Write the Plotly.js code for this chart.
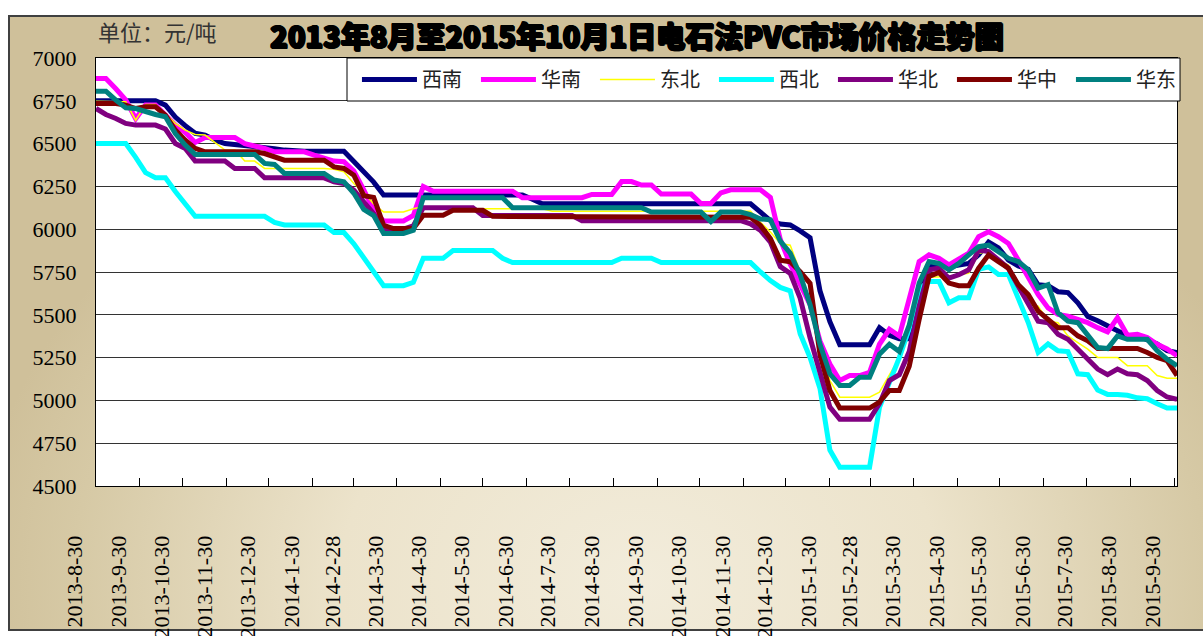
<!DOCTYPE html>
<html><head><meta charset="utf-8">
<script src="https://cdn.plot.ly/plotly-3.0.1.min.js"></script>
<style>
html,body{margin:0;padding:0;background:#fff;width:1203px;height:636px;overflow:hidden;}
#frame{position:absolute;left:8px;top:15px;width:1210px;height:612px;border:2px solid #404040;
 background: radial-gradient(ellipse 55% 85% at 52% 92%, #F2ECDB 0%, #ECE3CB 45%, #D6C9A5 85%, #CFC09A 100%);}
#chart{position:absolute;left:0;top:0;width:1203px;height:636px;}
</style></head><body>
<div id="frame"></div><div id="chart"></div>
<script>
const TITLE = '2013年8月至2015年10月1日电石法PVC市场价格走势图';
const UNIT = '单位：元/吨';
const SERIES_NAMES = ['西南','华南','东北','西北','华北','华中','华东'];

const DATES = [
'2013-08-30','2013-09-06','2013-09-13','2013-09-20','2013-09-27','2013-10-04','2013-10-11','2013-10-18','2013-10-25',
'2013-11-01','2013-11-08','2013-11-15','2013-11-22','2013-11-29','2013-12-06','2013-12-13','2013-12-20','2013-12-27',
'2014-01-03','2014-01-10','2014-01-17','2014-01-24','2014-01-31','2014-02-07','2014-02-14','2014-02-21','2014-02-28',
'2014-03-07','2014-03-14','2014-03-21','2014-03-28','2014-04-04','2014-04-11','2014-04-18','2014-04-25',
'2014-05-02','2014-05-09','2014-05-16','2014-05-23','2014-05-30','2014-06-06','2014-06-13','2014-06-20','2014-06-27',
'2014-07-04','2014-07-11','2014-07-18','2014-07-25','2014-08-01','2014-08-08','2014-08-15','2014-08-22','2014-08-29',
'2014-09-05','2014-09-12','2014-09-19','2014-09-26','2014-10-03','2014-10-10','2014-10-17','2014-10-24','2014-10-31',
'2014-11-07','2014-11-14','2014-11-21','2014-11-28','2014-12-05','2014-12-12','2014-12-19','2014-12-26',
'2015-01-02','2015-01-09','2015-01-16','2015-01-23','2015-01-30','2015-02-06','2015-02-13','2015-02-20','2015-02-27',
'2015-03-06','2015-03-13','2015-03-20','2015-03-27','2015-04-03','2015-04-10','2015-04-17','2015-04-24',
'2015-05-01','2015-05-08','2015-05-15','2015-05-22','2015-05-29','2015-06-05','2015-06-12','2015-06-19','2015-06-26',
'2015-07-03','2015-07-10','2015-07-17','2015-07-24','2015-07-31','2015-08-07','2015-08-14','2015-08-21','2015-08-28',
'2015-09-04','2015-09-11','2015-09-18','2015-09-25','2015-10-02'];

const TICK_DATES = ['2013-08-30','2013-09-30','2013-10-30','2013-11-30','2013-12-30','2014-01-30','2014-02-28','2014-03-30',
'2014-04-30','2014-05-30','2014-06-30','2014-07-30','2014-08-30','2014-09-30','2014-10-30','2014-11-30','2014-12-30',
'2015-01-30','2015-02-28','2015-03-30','2015-04-30','2015-05-30','2015-06-30','2015-07-30','2015-08-30','2015-09-30'];
const TICK_LABELS = ['2013-8-30','2013-9-30','2013-10-30','2013-11-30','2013-12-30','2014-1-30','2014-2-28','2014-3-30',
'2014-4-30','2014-5-30','2014-6-30','2014-7-30','2014-8-30','2014-9-30','2014-10-30','2014-11-30','2014-12-30',
'2015-1-30','2015-2-28','2015-3-30','2015-4-30','2015-5-30','2015-6-30','2015-7-30','2015-8-30','2015-9-30'];

const XINAN = [6750,6750,6750,6750,6750,6750,6750,
6725,6655,6605,6560,6550,6520,6500,6495,6490,6487,6480,6470,6462,
6455,6455,6455,6455,6455,6455,
6395,6340,6275,
6200,6200,6200,6200,6200,6200,6200,6200,6200,6200,6200,6200,6200,6200,6200,
6175,
6148,6148,6148,6148,6148,6148,6148,6148,6148,6148,6148,6148,6148,6148,6148,6148,6148,6148,6148,6148,6148,6148,
6100,6050,6030,6025,5990,5950,5640,5460,5325,5325,5325,5325,5425,5380,5360,5360,5600,5790,5795,5780,5790,5800,5850,5925,
5890,5820,5785,5765,5675,5670,5635,5630,5570,5490,5465,5435,5400,5378,5378,5357,5330,5290,5280];

const HUANAN = [6880,6880,6820,6755,6645,6725,6725,6670,6608,6565,6507,
6535,6535,6535,6535,
6500,6487,6472,
6452,6452,6452,6452,
6433,6413,6398,6394,
6340,6230,6110,
6048,6048,6048,
6080,6250,
6222,6222,6222,6222,6222,6222,6222,6222,6222,
6184,6184,6184,6184,6184,6184,6184,
6203,6203,6203,
6278,6278,
6258,6258,
6205,6205,6205,6205,
6150,6150,
6212,
6230,6230,6230,6230,
6185,5940,5795,5675,5560,5347,5212,5116,5145,5145,5164,5328,5415,5376,5600,5811,5850,5830,5792,5825,5860,5956,5985,5956,
5917,5820,5724,5618,5540,5502,5492,5473,5454,5425,5400,5483,5380,5386,5367,5328,5300,5261];

const DONGBEI = [6748,6748,6748,
6744,6637,
6729,6729,
6676,6618,6579,6553,6550,6507,
6462,6462,
6398,6398,
6355,6355,6355,6355,6355,6355,6355,
6350,6335,6267,6215,6148,
6100,6100,6100,
6119,6133,
6120,6120,6120,6120,6120,6120,6120,6120,6120,6120,6120,6120,
6105,6105,6105,6105,6105,6105,6105,6105,6105,6105,6105,6105,6105,6105,6105,6105,6105,6105,6105,6105,6105,
6041,5983,5916,5906,5752,5559,5330,5116,5019,5019,5019,5019,5048,5150,5250,5450,5650,5720,
5724,5724,
5735,5743,5859,5869,5811,5792,5647,5560,5550,5463,5454,5377,5338,5299,
5251,5251,5251,
5203,5203,5203,
5145,5130,5130];

const XIBEI = [6500,6500,6500,6500,6420,6330,6300,6300,6220,6150,
6075,6075,6075,6075,6075,6075,6075,6075,
6040,
6025,6025,6025,6025,6025,
5980,5980,5915,5830,5750,
5670,5670,5670,
5690,
5830,5830,5830,
5875,5875,5875,5875,5875,
5830,
5805,5805,5805,5805,5805,5805,5805,5805,5805,5805,5805,
5830,5830,5830,5830,
5805,5805,5805,5805,5805,5805,5805,5805,5805,5805,
5750,5700,5660,5640,5390,5250,5070,4710,4610,4610,4610,4610,4960,5100,5250,5420,5650,5695,5695,5570,5600,5600,
5765,5780,5735,5735,5590,5455,5280,5330,5290,5285,5155,5150,5060,5035,5035,5030,5015,5010,4980,4955,4955];

const HUABEI = [6705,6670,6647,6618,
6608,6608,6608,
6585,6501,6472,
6398,6398,6398,6398,
6355,6355,6355,
6300,6300,6300,6300,6300,6300,6300,
6277,6267,6228,6160,6090,
6000,6000,6000,
6020,
6125,6125,6125,6125,6125,6125,
6080,6080,6080,6080,6080,6080,6080,6080,6080,6080,
6050,6050,6050,6050,6050,6050,6050,6050,6050,6050,6050,6050,6050,6050,6050,6050,6050,
6031,5993,5925,5781,5742,5598,5366,5174,4961,4890,4890,4890,4890,4981,5116,5150,5285,5550,5763,5772,5714,5734,
5763,5878,5869,5820,5772,5666,5570,5463,5454,5386,5357,5299,5241,5183,5150,5183,5155,5150,5116,5058,5020,5006];

const HUAZHONG = [6734,6734,6734,6725,6705,6715,6715,
6666,6579,6520,6472,
6452,6452,6452,6452,6452,6452,
6442,6423,
6403,6403,6403,6403,6403,
6364,6355,6316,6196,6186,
6023,
6004,6004,6004,
6081,6081,6081,
6110,6110,6110,6110,
6075,6075,6075,6075,6075,6075,6075,6075,6075,6075,6075,6075,6075,6075,6075,6075,6075,6075,6075,6075,6075,6075,6075,6075,6075,6075,
6070,6022,5945,5819,5810,5752,5684,5270,5058,4955,4955,4955,4955,4990,5058,5058,5200,5473,5724,5747,5685,5670,5670,
5772,5850,5811,5772,5676,5618,5521,5473,5425,5425,5377,5348,
5303,5303,5303,5303,5303,
5280,5251,5232,5145];

const HUADONG = [6806,6806,6754,6709,6705,6686,6670,6657,6559,6491,
6437,6437,6437,6437,6437,6437,6437,
6384,6378,
6326,6326,6326,6326,6326,
6287,6277,6210,6115,6080,
5975,5975,5975,
5994,
6184,6184,6184,6184,6184,6184,6184,6184,6184,
6125,6125,6125,6125,6125,6125,6125,6125,6125,6125,6125,6125,6125,6125,
6100,6100,6100,6100,6100,6100,
6045,
6100,6100,6100,
6085,6060,6055,5930,5860,5733,5559,5328,5155,5087,5087,5135,5135,5270,5328,5285,5440,5685,5811,5800,5763,5800,
5850,5898,5907,5869,5830,5811,5763,5656,5676,5512,5463,5454,5377,5309,5303,5377,5357,5357,5357,5290,5241,5203];

const SERIES_VALUES = [XINAN, HUANAN, DONGBEI, XIBEI, HUABEI, HUAZHONG, HUADONG];
const COLORS = ['#000080','#FF00FF','#FFFF00','#00FFFF','#800080','#800000','#008080'];
const WIDTHS = [5,5,1.5,5,5,5,5];

const traces = SERIES_NAMES.map((n,k)=>({
  type:'scatter', mode:'lines', name:n, x:DATES, y:SERIES_VALUES[k],
  line:{color:COLORS[k], width:WIDTHS[k]}, hoverinfo:'skip'
}));

const layout = {
  width:1203, height:636,
  margin:{l:96, r:26, t:58, b:150, pad:0, autoexpand:false},
  paper_bgcolor:'rgba(0,0,0,0)', plot_bgcolor:'#ffffff',
  showlegend:true,
  title:{text:TITLE, xref:'container', yref:'container', x:0.5295, xanchor:'center', y:0.94, yanchor:'middle',
    font:{family:'Noto Sans CJK SC', size:29, color:'#000', weight:900,
      shadow:'1px 0 0 #000, -1px 0 0 #000, 0 1px 0 #000, 0 -1px 0 #000, 1px 1px 0 #000, -1px -1px 0 #000'}},
  xaxis:{type:'date', range:['2013-08-30','2015-10-02'], tickmode:'array', tickvals:TICK_DATES, ticktext:TICK_LABELS,
    tickangle:-90, ticks:'inside', ticklen:8, tickwidth:1, tickcolor:'#000', showgrid:false, zeroline:false,
    showline:true, linecolor:'#000', linewidth:1, mirror:true, automargin:false,
    tickfont:{family:'Liberation Serif', size:22, color:'#000'}, ticklabelshift:-21, ticklabelstandoff:40},
  yaxis:{range:[4500,7000], tick0:4500, dtick:250, showgrid:true, gridcolor:'#333', gridwidth:1, zeroline:false,
    showline:true, linecolor:'#000', linewidth:1, mirror:true, ticks:'', automargin:false,
    tickfont:{family:'Liberation Serif', size:22, color:'#000'}, ticklabelstandoff:14},
  legend:{orientation:'h', xref:'paper', x:0.2414, xanchor:'left', yref:'paper', y:0.95, yanchor:'middle',
    bgcolor:'rgba(0,0,0,0)', borderwidth:0,
    font:{family:'Noto Sans CJK SC', size:20, color:'#222'}, itemwidth:55, entrywidth:49, traceorder:'normal'},
  shapes:[{type:'rect', xref:'paper', yref:'paper', x0:0.2322, x1:1.0028, y0:0.8995, y1:1,
    fillcolor:'#ffffff', line:{color:'#000', width:1}, layer:'above'}],
  annotations:[{xref:'paper', yref:'paper', x:0, xanchor:'left', xshift:0, y:1, yanchor:'bottom', yshift:9,
    text:UNIT, showarrow:false, font:{family:'Noto Sans CJK SC', size:22, color:'#333'}}]
};

Plotly.newPlot('chart', traces, layout, {staticPlot:true, displayModeBar:false});
</script></body></html>
